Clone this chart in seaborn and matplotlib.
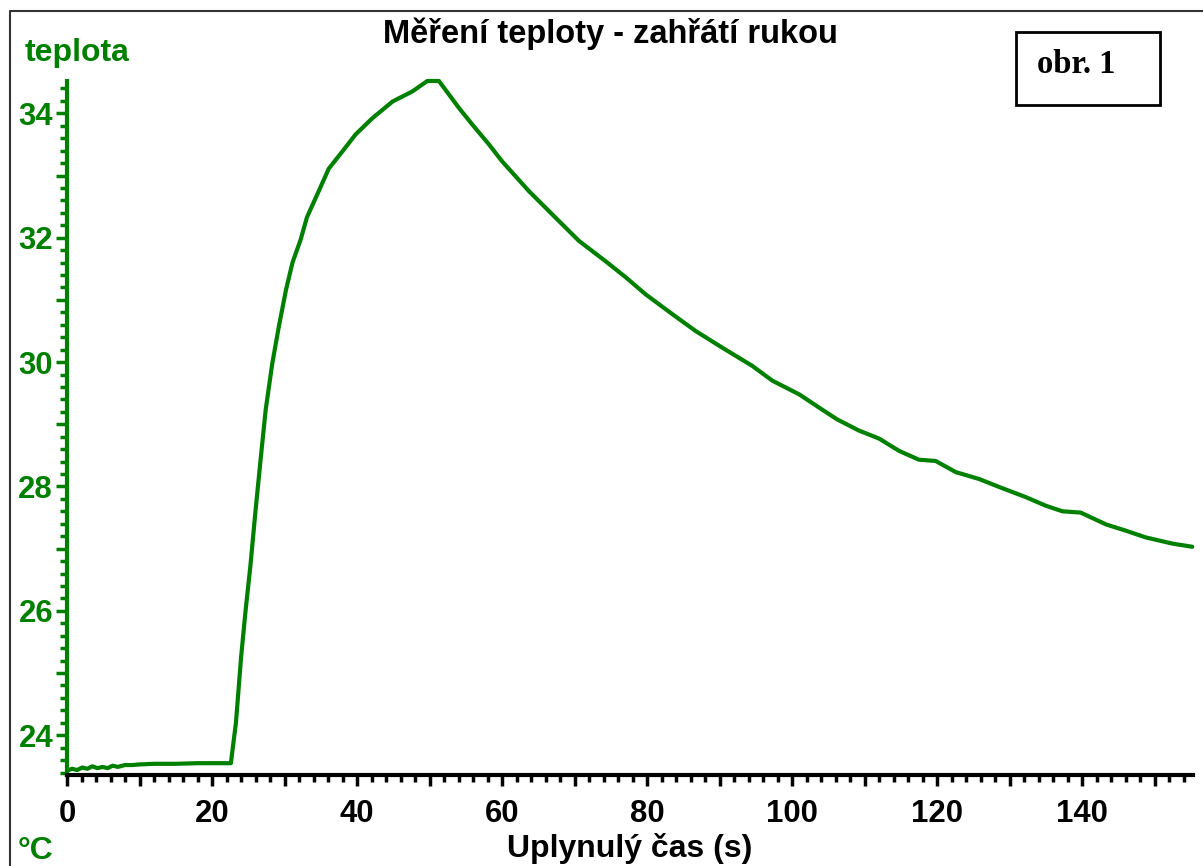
import matplotlib
matplotlib.use("Agg")
import matplotlib.pyplot as plt
from matplotlib.lines import Line2D
from matplotlib.patches import Rectangle
from matplotlib.ticker import MultipleLocator, FuncFormatter
import seaborn as sns
import pandas as pd

# Measured hand-warming temperature record
time_s = [0, 0.7, 1.4, 2.1, 2.8, 3.5, 4.2, 4.9, 5.6, 6.3, 7.0, 8.0, 9.0, 10.0,
          12.0, 15.0, 18.0, 20.0, 22.6, 23.3, 24.0, 24.6, 25.3, 26.0, 26.7,
          27.4, 28.3, 29.2, 30.2, 31.1, 32.2, 33.1, 34.8, 36.1, 38.0, 39.8,
          42.1, 44.9, 47.6, 49.7, 51.3, 52.7, 54.1, 55.9, 58.2, 60.0, 63.7,
          67.4, 70.6, 74.3, 77.1, 79.8, 83.5, 86.7, 90.4, 94.5, 97.3, 101.0,
          103.7, 106.2, 109.2, 112.0, 114.8, 117.5, 119.8, 122.6, 125.8,
          128.6, 132.2, 135.0, 137.3, 139.8, 143.3, 146.0, 148.8, 152.5, 155.2]
temp_c = [23.43, 23.46, 23.44, 23.48, 23.46, 23.50, 23.47, 23.49, 23.47,
          23.51, 23.49, 23.52, 23.52, 23.53, 23.54, 23.54, 23.55, 23.55,
          23.55, 24.20, 25.24, 25.97, 26.73, 27.61, 28.43, 29.23, 29.97,
          30.56, 31.16, 31.60, 31.96, 32.33, 32.77, 33.11, 33.39, 33.66,
          33.92, 34.19, 34.35, 34.52, 34.52, 34.30, 34.08, 33.82, 33.50,
          33.23, 32.75, 32.32, 31.95, 31.62, 31.36, 31.09, 30.77, 30.50,
          30.23, 29.94, 29.70, 29.48, 29.27, 29.08, 28.90, 28.77, 28.57,
          28.43, 28.41, 28.23, 28.12, 27.99, 27.83, 27.69, 27.60, 27.58,
          27.39, 27.29, 27.18, 27.08, 27.03]

title_text = "Měření teploty - zahřátí rukou"
y_name = "teplota"
y_unit = "°C"
x_name = "Uplynulý čas (s)"
tag_text = "obr. 1"

GREEN = "#008000"
W, H = 1203, 866

sns.set_style("white")
plt.rcParams["font.family"] = ["Liberation Sans", "DejaVu Sans"]

fig = plt.figure(figsize=(W / 100, H / 100), dpi=100)
ax = fig.add_axes([67 / W, (H - 775) / H, (1193 - 67) / W, (775 - 81) / H])

df = pd.DataFrame({"t": time_s, "T": temp_c})
sns.lineplot(data=df, x="t", y="T", ax=ax, color=GREEN, linewidth=3,
             clip_on=False)

ax.set_xlim(0, 155.3)
ax.set_ylim(23.36, 34.52)
ax.set_xlabel("")
ax.set_ylabel("")

for s in ("top", "right"):
    ax.spines[s].set_visible(False)
ax.spines["left"].set_color(GREEN)
ax.spines["left"].set_linewidth(3)
ax.spines["bottom"].set_color("black")
ax.spines["bottom"].set_linewidth(3)

ax.xaxis.set_major_locator(MultipleLocator(10))
ax.xaxis.set_minor_locator(MultipleLocator(2))
ax.xaxis.set_major_formatter(FuncFormatter(
    lambda v, p: f"{v:.0f}" if round(v) % 20 == 0 else ""))
ax.yaxis.set_major_locator(MultipleLocator(1))
ax.yaxis.set_minor_locator(MultipleLocator(0.2))
ax.yaxis.set_major_formatter(FuncFormatter(
    lambda v, p: f"{v:.0f}" if round(v) % 2 == 0 else ""))

ax.tick_params(axis="x", which="major", direction="out", length=8, width=2.5,
               color="black", labelcolor="black", labelsize=22.4, pad=9,
               bottom=True)
ax.tick_params(axis="x", which="minor", direction="out", length=5, width=2.5,
               color="black", bottom=True)
ax.tick_params(axis="y", which="major", direction="out", length=8, width=2.5,
               color=GREEN, labelcolor=GREEN, labelsize=22.4, pad=2, left=True)
ax.tick_params(axis="y", which="minor", direction="out", length=5, width=2.5,
               color=GREEN, left=True)
for lab in ax.get_xticklabels() + ax.get_yticklabels():
    lab.set_fontweight("bold")

# Titles and axis captions
fig.text(610 / W, 1 - 43 / H, title_text, ha="center", va="baseline",
         fontsize=23.5, fontweight="bold", color="black")
fig.text(25 / W, 1 - 61 / H, y_name, ha="left", va="baseline",
         fontsize=23, fontweight="bold", color=GREEN)
fig.text(18 / W, 1 - 859 / H, y_unit, ha="left", va="baseline",
         fontsize=23, fontweight="bold", color=GREEN)
fig.text(630 / W, 1 - 857 / H, x_name, ha="center", va="baseline",
         fontsize=23, fontweight="bold", color="black")

# Figure tag box
fig.patches.append(Rectangle((1016 / W, 1 - 105 / H), 144 / W, 73 / H,
                             transform=fig.transFigure, fill=False,
                             edgecolor="black", linewidth=2))
fig.text(1037 / W, 1 - 73 / H, tag_text, ha="left", va="baseline",
         fontsize=23.5, fontweight="bold", color="black",
         family=["Liberation Serif", "DejaVu Serif"])

# Outer frame (left and top edges)
fig.lines.append(Line2D([10 / W, 10 / W, 1.0], [0.0, 1 - 11 / H, 1 - 11 / H],
                        transform=fig.transFigure, color="#333333",
                        linewidth=1.5))

fig.savefig("out.png", dpi=100)
